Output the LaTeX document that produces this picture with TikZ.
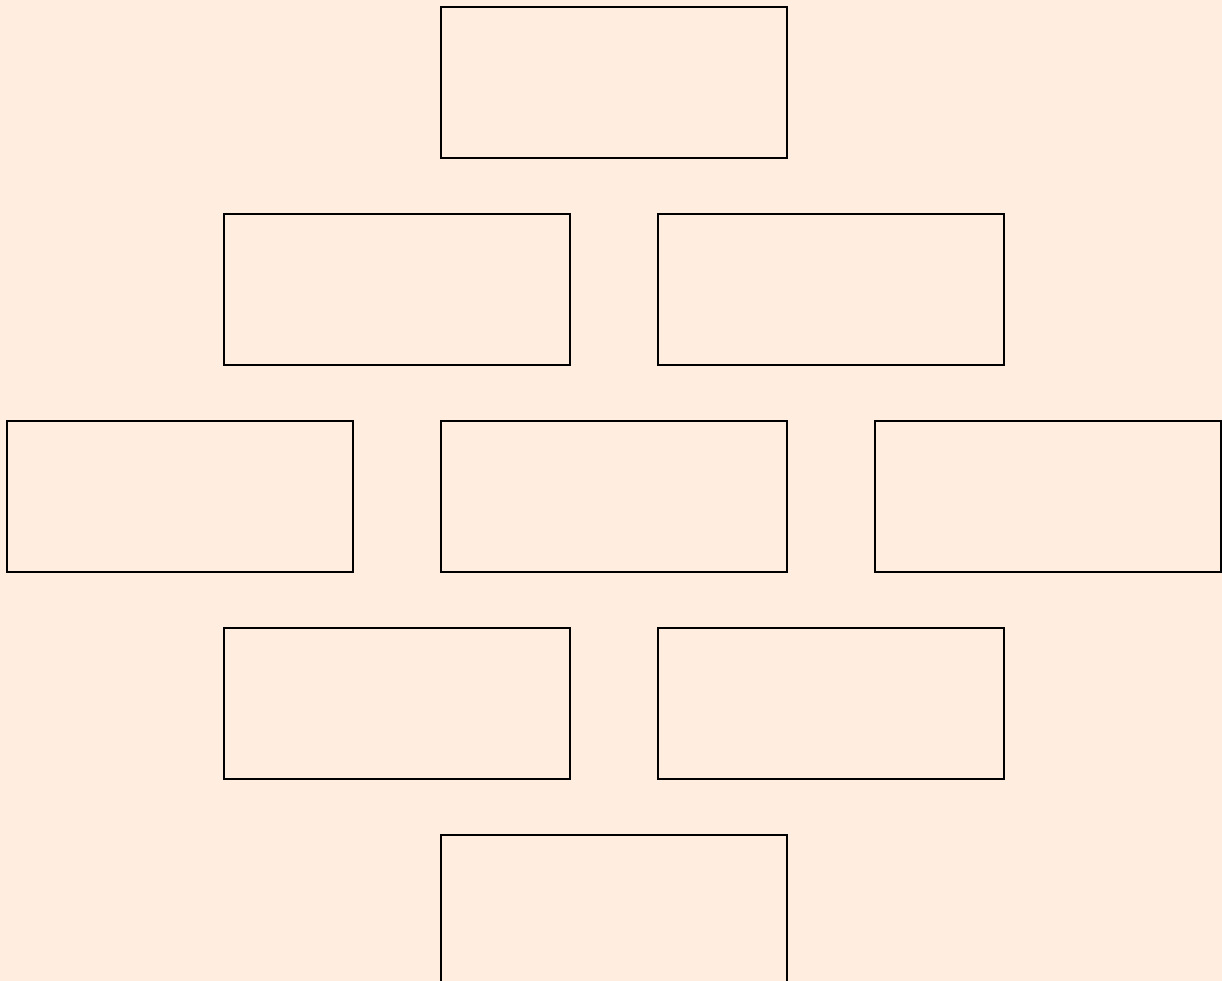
\documentclass[tikz,border=0pt]{standalone}
\usepackage{tikz}
\definecolor{bgpeach}{HTML}{FFEEE0}
\tikzset{
  blankbox/.style={draw=black, line width=2pt, fill=none, minimum width=346pt, minimum height=151pt, inner sep=0pt, outer sep=0pt}
}
\begin{document}
\begin{tikzpicture}[x=1pt,y=-1pt]
\useasboundingbox (0,0) rectangle (1222,981);
\clip (0,0) rectangle (1222,981);
\fill[bgpeach] (0,0) rectangle (1222,981);
\node[blankbox] (b1) at (614,82.5) {};
\node[blankbox] (b2) at (397,289.5) {};
\node[blankbox] (b3) at (831,289.5) {};
\node[blankbox] (b4) at (180,496.5) {};
\node[blankbox] (b5) at (614,496.5) {};
\node[blankbox] (b6) at (1048,496.5) {};
\node[blankbox] (b7) at (397,703.5) {};
\node[blankbox] (b8) at (831,703.5) {};
\node[blankbox] (b9) at (614,910.5) {};
\end{tikzpicture}
\end{document}
